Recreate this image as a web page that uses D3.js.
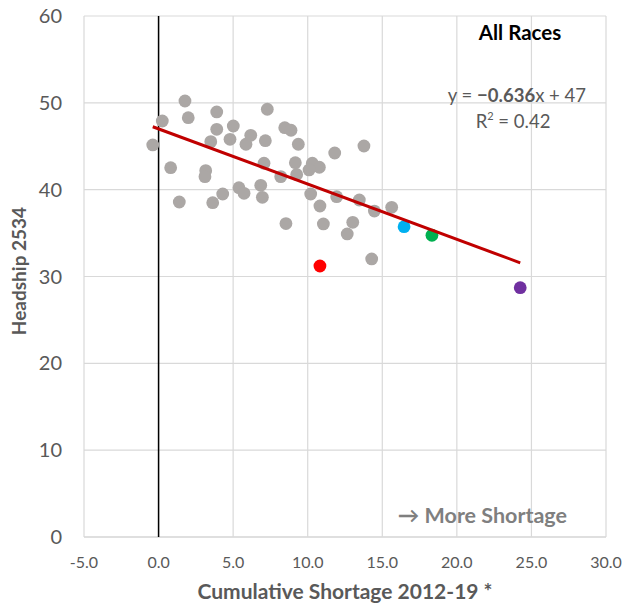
<!DOCTYPE html>
<html><head><meta charset="utf-8">
<script src="https://cdn.jsdelivr.net/npm/d3@7"></script>
<style>body{margin:0;background:#fff}svg{display:block}text{font-family:Lato,"Open Sans",sans-serif}</style>
</head><body><svg id="c" width="626" height="608"></svg>
<script>
const grayX = [-0.39,0.25,1.77,1.99,0.81,1.39,3.16,3.11,3.90,3.90,3.50,3.63,4.30,4.79,5.01,5.39,5.73,5.86,6.18,7.29,7.16,7.07,6.85,6.96,8.46,8.88,9.37,9.17,9.26,8.19,8.54,10.31,10.78,10.09,10.20,10.82,11.05,11.81,11.94,13.02,12.65,13.77,13.46,14.47,14.29,15.63];
const grayY = [45.15,47.91,50.21,48.29,42.53,38.58,42.19,41.50,48.95,46.95,45.53,38.50,39.50,45.80,47.33,40.23,39.58,45.23,46.26,49.26,45.64,43.04,40.50,39.12,47.14,46.84,45.23,43.11,41.75,41.50,36.10,43.04,42.58,42.27,39.50,38.12,36.05,44.22,39.19,36.24,34.90,45.03,38.81,37.54,32.02,37.97];
const hiX = [10.82,16.46,18.33,24.25];
const hiY = [31.21,35.74,34.75,28.71];
const hiColors = ["#FF0000","#00B0F0","#00B050","#7030A0"];
const xTicks = [-5,0,5,10,15,20,25,30];
const yTicks = [0,10,20,30,40,50,60];
const slope = -0.636, intercept = 47;

const svg = d3.select("#c");
const L=84,R=606,T=16,B=537;
const x = d3.scaleLinear().domain([-5,30]).range([L,R]);
const y = d3.scaleLinear().domain([0,60]).range([B,T]);

svg.append("g").selectAll("line").data(yTicks).join("line")
  .attr("x1",L).attr("x2",R).attr("y1",d=>y(d)).attr("y2",d=>y(d))
  .attr("stroke",d=>d===0?"#BFBFBF":"#D9D9D9").attr("stroke-width",1.2);
svg.append("g").selectAll("line").data(xTicks).join("line")
  .attr("y1",T).attr("y2",B).attr("x1",d=>x(d)).attr("x2",d=>x(d))
  .attr("stroke","#D9D9D9").attr("stroke-width",1.2);
svg.append("line").attr("x1",x(0)).attr("x2",x(0)).attr("y1",T).attr("y2",B).attr("stroke","#000").attr("stroke-width",1.5);

svg.append("g").selectAll("text").data(yTicks).join("text")
  .attr("x",62).attr("y",d=>y(d)).attr("dy","0.35em").attr("text-anchor","end")
  .attr("fill","#595959").attr("font-size",20).text(d=>d);
svg.append("g").selectAll("text").data(xTicks).join("text")
  .attr("x",d=>x(d)).attr("y",562).attr("dy","0.35em").attr("text-anchor","middle")
  .attr("fill","#595959").attr("font-size",16).text(d=>d3.format(".1f")(d).replace("\u2212","-"));

svg.append("text").attr("x",345).attr("y",599).attr("text-anchor","middle")
  .attr("fill","#595959").attr("font-size",21).attr("font-weight","bold").text("Cumulative Shortage 2012-19 *");
svg.append("text").attr("transform","translate(26,271) rotate(-90)").attr("text-anchor","middle")
  .attr("fill","#595959").attr("font-size",19).attr("font-weight","bold").text("Headship 2534");

const gray = grayX.map((v,i)=>({x:v,y:grayY[i]}));
svg.append("g").selectAll("circle").data(gray).join("circle")
  .attr("cx",d=>x(d.x)).attr("cy",d=>y(d.y)).attr("r",6.4).attr("fill","#ABA7A5");
const hi = hiX.map((v,i)=>({x:v,y:hiY[i],c:hiColors[i]}));
svg.append("g").selectAll("circle").data(hi).join("circle")
  .attr("cx",d=>x(d.x)).attr("cy",d=>y(d.y)).attr("r",6.4).attr("fill",d=>d.c);

const allX = grayX.concat(hiX);
const x0 = d3.min(allX), x1 = d3.max(allX);
svg.append("line").attr("x1",x(x0)).attr("y1",y(slope*x0+intercept))
  .attr("x2",x(x1)).attr("y2",y(slope*x1+intercept))
  .attr("stroke","#C00000").attr("stroke-width",3);

svg.append("text").attr("x",520).attr("y",40).attr("text-anchor","middle")
  .attr("font-size",20.5).attr("font-weight","bold").attr("fill","#000").text("All Races");
const eq = svg.append("text").attr("x",586).attr("y",102).attr("text-anchor","end")
  .attr("font-size",18.5).attr("fill","#595959");
eq.append("tspan").text("y = ");
eq.append("tspan").attr("font-weight","bold").text("\u22120.636");
eq.append("tspan").text("x + 47");
const r2 = svg.append("text").attr("x",513).attr("y",128).attr("text-anchor","middle")
  .attr("font-size",18.5).attr("fill","#595959");
r2.append("tspan").text("R");
r2.append("tspan").attr("font-size",11).attr("dy",-8).text("2");
r2.append("tspan").attr("dy",8).text(" = 0.42");
svg.append("text").attr("x",567).attr("y",523).attr("text-anchor","end")
  .attr("font-size",21.5).attr("font-weight","bold").attr("fill","#7F7F7F").text("\u2192 More Shortage");
</script></body></html>
